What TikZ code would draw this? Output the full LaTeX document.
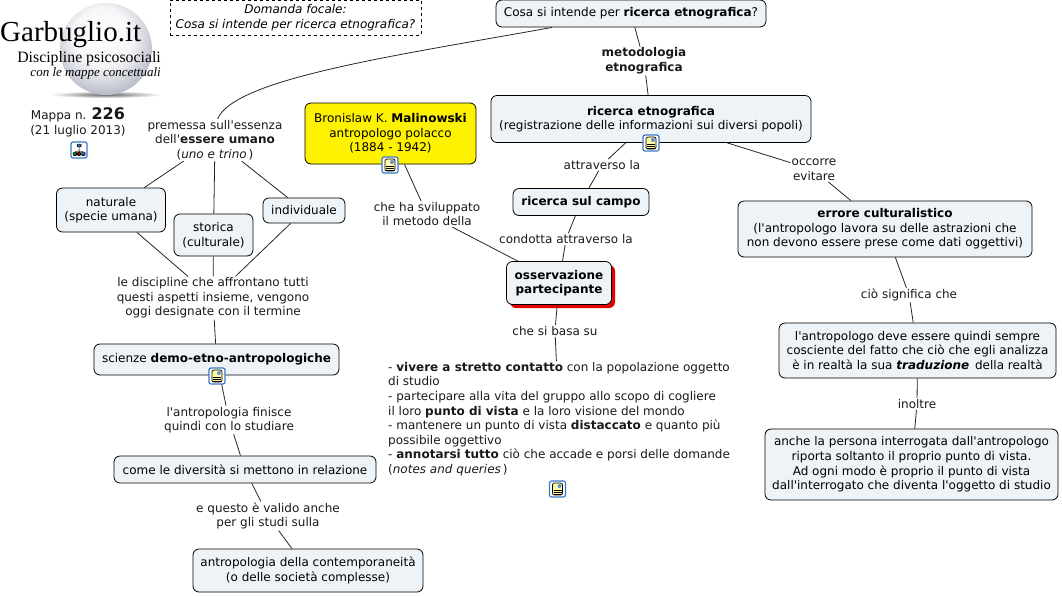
\documentclass[tikz,border=0pt]{standalone}
\usepackage{fontspec}
\setmainfont[Ligatures=TeXOff]{DejaVu Sans}
\newfontfamily\logofont{Liberation Serif}
\usetikzlibrary{calc,shadows}
\definecolor{boxfill}{HTML}{EDF3F6}
\definecolor{iconblue}{HTML}{3C78C8}
\definecolor{pearlmid}{HTML}{A4A9BA}
\definecolor{pearldark}{HTML}{83889C}
\pgfdeclareradialshading{pearl}{\pgfpoint{-3bp}{9bp}}{color(0bp)=(white); color(16bp)=(white!90!pearlmid); color(34bp)=(pearlmid); color(47bp)=(pearldark); color(54bp)=(pearlmid!50); color(60bp)=(white)}
\tikzset{
	every node/.style={align=center, inner sep=1pt, font=\fontsize{12}{14.6}\selectfont},
	concept/.style={draw=black, fill=boxfill, rounded corners=6pt, inner sep=0pt, line width=0.8pt},
	label/.style={text=black!90},
	link/.style={line width=0.8pt, black!85},
	noteicon/.style={draw=iconblue, fill=white, rounded corners=2pt, minimum size=16pt, inner sep=0pt, line width=1.2pt,
		path picture={
			\coordinate (pp) at (path picture bounding box.center);
			\draw[black, fill=yellow!35, line width=0.7pt] ($(pp)+(-5,-6)$) rectangle ($(pp)+(5,6)$);
			\fill[iconblue!80] ($(pp)+(0,-5)$) rectangle ($(pp)+(4,-1)$);
			\foreach \dy in {1,3,5}
				\draw[black, line width=0.6pt] ($(pp)+(-4,\dy)$) -- ++(8,0);
		}},
	mapicon/.style={draw=iconblue, fill=white, rounded corners=2pt, minimum size=16pt, inner sep=0pt, line width=1.2pt,
		path picture={
			\coordinate (pp) at (path picture bounding box.center);
			\draw[black, line width=0.5pt] (pp) ++(0,-4) -- ++(0,6) (pp) ++(-4,3) -- ++(0,-2) -- ++(8,0) -- ++(0,2);
			\draw[black, fill=iconblue, line width=0.5pt] ($(pp)+(-2,-6)$) rectangle ($(pp)+(2,-3)$);
			\draw[black, fill=green!60!black, line width=0.5pt] ($(pp)+(-6,2)$) rectangle ($(pp)+(-2.5,5.5)$);
			\draw[black, fill=red!70!black, line width=0.5pt] ($(pp)+(-1.7,2)$) rectangle ($(pp)+(1.7,5.5)$);
			\draw[black, fill=iconblue, line width=0.5pt] ($(pp)+(2.5,2)$) rectangle ($(pp)+(6,5.5)$);
		}}
}
\begin{document}
\begin{tikzpicture}[x=1pt, y=-1pt]
	%%%%% LOGO %%%%%
	\useasboundingbox (0,0) rectangle (1062,595);
	\shade[inner color=black!60, outer color=white] (106,94.5) ellipse (56 and 3.5);
	\shade[shading=pearl] (106,49) circle (46);
	\node[anchor=base west, font=\logofont\fontsize{29}{30}\selectfont, inner sep=0pt] (logo) at (0,41) {Garbuglio.it};
	\node[anchor=base east, font=\logofont\fontsize{15.8}{18}\selectfont, inner sep=0pt] (logosub) at (161,62) {Discipline psicosociali};
	\node[anchor=base east, font=\logofont\itshape\fontsize{13}{14}\selectfont, inner sep=0pt] (logomap) at (161,76) {con le mappe concettuali};
	\node[label] (mappa) at (78,122.5) {Mappa n. {\fontsize{16}{14.6}\selectfont\bfseries 226}\\(21 luglio 2013)};
	\node[mapicon] (iconmap) at (79,150) {};

	\node[draw=black, dashed, inner sep=0pt, minimum width=251pt, minimum height=35pt, line width=0.6pt, font=\itshape\fontsize{12}{14.6}\selectfont] (focale) at (295.5,17.5) {Domanda focale:\\Cosa si intende per ricerca etnografica?};

	%%%%% CONCEPTS %%%%%
	\node[concept, minimum width=270pt, minimum height=27pt] (domanda) at (631,13.5) {Cosa si intende per \textbf{ricerca etnografica}?};
	\node[concept, minimum width=320pt, minimum height=47pt] (ricerca) at (651,119) {\textbf{ricerca etnografica}\\(registrazione delle informazioni sui diversi popoli)};
	\node[concept, minimum width=136pt, minimum height=27pt] (campo) at (581,202) {\textbf{ricerca sul campo}};
	\node[concept, fill=yellow, minimum width=171pt, minimum height=61pt] (malinowski) at (390.5,133.5) {Bronislaw K. \textbf{Malinowski}\\antropologo polacco\\(1884 - 1942)};
	\node[concept, minimum width=105pt, minimum height=43pt, general shadow={fill=red!90!black, shadow xshift=3.5pt, shadow yshift=-3.5pt}] (osservazione) at (559,283) {\textbf{osservazione}\\\textbf{partecipante}};
	\node[concept, minimum width=109pt, minimum height=44pt] (naturale) at (111,210) {naturale\\(specie umana)};
	\node[concept, minimum width=79pt, minimum height=42pt] (storica) at (213.5,235) {storica\\(culturale)};
	\node[concept, minimum width=82pt, minimum height=25pt] (individuale) at (304,210.5) {individuale};
	\node[concept, minimum width=245pt, minimum height=31pt] (scienze) at (216.5,359.5) {scienze \textbf{demo-etno-antropologiche}};
	\node[concept, minimum width=262pt, minimum height=27pt] (diversita) at (245,469.5) {come le diversità si mettono in relazione};
	\node[concept, minimum width=230pt, minimum height=43pt] (contemporanea) at (308,570.5) {antropologia della contemporaneità\\(o delle società complesse)};
	\node[concept, minimum width=294pt, minimum height=56pt] (errore) at (885,229) {\textbf{errore culturalistico}\\(l'antropologo lavora su delle astrazioni che\\non devono essere prese come dati oggettivi)};
	\node[concept, minimum width=277pt, minimum height=55pt] (cosciente) at (917.5,350.5) {l'antropologo deve essere quindi sempre\\cosciente del fatto che ciò che egli analizza\\è in realtà la sua \textbf{\textit{traduzione}}\, della realtà};
	\node[concept, minimum width=293pt, minimum height=71pt] (interrogata) at (911.5,464.5) {anche la persona interrogata dall'antropologo\\riporta soltanto il proprio punto di vista.\\Ad ogni modo è proprio il punto di vista\\dall'interrogato che diventa l'oggetto di studio};

	%%%%% LABELS %%%%%
	\node[label, font=\bfseries\fontsize{12}{14.6}\selectfont] (metodologia) at (644,61) {metodologia\\etnografica};
	\node[label] (attraverso) at (602,165) {attraverso la};
	\node[label] (condotta) at (566,239) {condotta attraverso la};
	\node[label] (basa) at (555,331) {che si basa su};
	\node[label] (premessa) at (215,140) {premessa sull'essenza\\dell'\textbf{essere umano}\\(\textit{uno e trino}\,)};
	\node[label] (discipline) at (213,298) {le discipline che affrontano tutti\\questi aspetti insieme, vengono\\oggi designate con il termine};
	\node[label] (finisce) at (229,420) {l'antropologia finisce\\quindi con lo studiare};
	\node[label] (valido) at (268,516) {e questo è valido anche\\per gli studi sulla};
	\node[label] (sviluppato) at (427,214) {che ha sviluppato\\il metodo della};
	\node[label] (evitare) at (814,170) {occorre\\evitare};
	\node[label] (significa) at (909,295) {ciò significa che};
	\node[label] (inoltre) at (917,404) {inoltre};
	\node[label, anchor=north west, align=left] (elenco) at (387,361) {- \textbf{vivere a stretto contatto} con la popolazione oggetto\\di studio\\- partecipare alla vita del gruppo allo scopo di cogliere\\il loro \textbf{punto di vista} e la loro visione del mondo\\- mantenere un punto di vista \textbf{distaccato} e quanto più\\possibile oggettivo\\- \textbf{annotarsi tutto} ciò che accade e porsi delle domande\\(\textit{notes and queries}\,)};

	%%%%% LINKS %%%%%
	\draw[link] (domanda.190) .. controls (400,55) and (235,78) .. (premessa.83);
	\draw[link] (domanda) -- (metodologia);
	\draw[link] (metodologia) -- (ricerca);
	\draw[link] (ricerca) -- (attraverso);
	\draw[link] (attraverso) -- (campo);
	\draw[link] (campo) -- (condotta);
	\draw[link] (condotta) -- (osservazione);
	\draw[link] (osservazione) -- (basa);
	\draw[link] (basa) -- (elenco);
	\draw[link] (ricerca) -- (evitare);
	\draw[link] (evitare) -- (errore);
	\draw[link] (errore) -- (significa);
	\draw[link] (significa) -- (cosciente);
	\draw[link] (cosciente) -- (inoltre);
	\draw[link] (inoltre) -- (interrogata);
	\draw[link] (malinowski) -- (sviluppato);
	\draw[link] (sviluppato) -- (osservazione.152);
	\draw[link] (premessa) -- (naturale);
	\draw[link] (premessa) -- (storica);
	\draw[link] (premessa) -- (individuale);
	\draw[link] (naturale) -- (discipline);
	\draw[link] (storica) -- (discipline);
	\draw[link] (individuale) -- (discipline);
	\draw[link] (discipline) -- (scienze);
	\draw[link] (scienze) -- (finisce);
	\draw[link] (finisce) -- (diversita);
	\draw[link] (diversita) -- (valido);
	\draw[link] (valido) -- (contemporanea);

	%%%%% ICONS %%%%%
	\node[noteicon] (iconmal) at (390,165) {};
	\node[noteicon] (iconric) at (651,143) {};
	\node[noteicon] (iconsci) at (217,376) {};
	\node[noteicon] (iconele) at (557.5,489) {};
\end{tikzpicture}
\end{document}
